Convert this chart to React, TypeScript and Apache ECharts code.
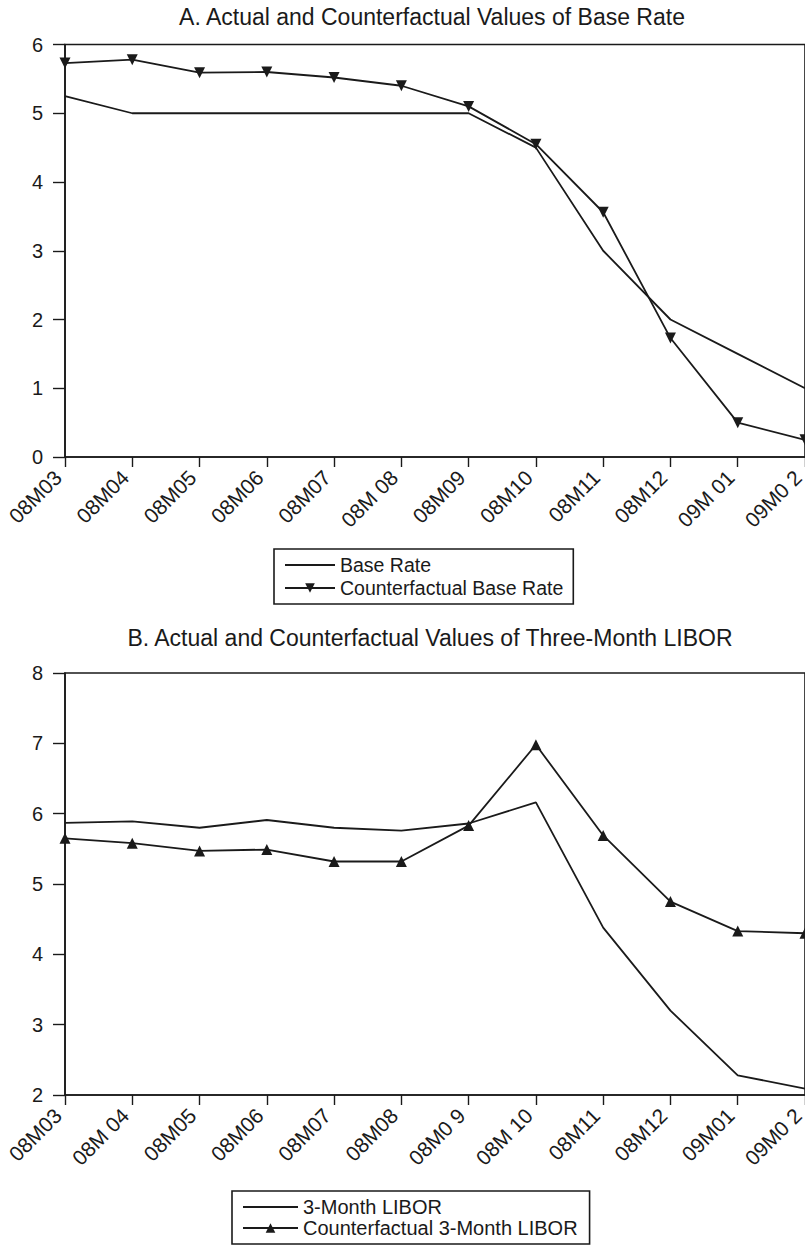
import React, { useEffect, useRef } from "react";
import * as echarts from "echarts";

const categoriesA = ["08M03", "08M04", "08M05", "08M06", "08M07", "08M 08", "08M09", "08M10", "08M11", "08M12", "09M 01", "09M0 2"];
const baseRate = [5.25, 5.0, 5.0, 5.0, 5.0, 5.0, 5.0, 4.5, 3.0, 2.0, 1.5, 1.0];
const cfBaseRate = [5.73, 5.78, 5.59, 5.6, 5.52, 5.4, 5.1, 4.55, 3.56, 1.73, 0.5, 0.25];

const categoriesB = ["08M03", "08M 04", "08M05", "08M06", "08M07", "08M08", "08M0 9", "08M 10", "08M11", "08M12", "09M01", "09M0 2"];
const libor = [5.87, 5.89, 5.8, 5.91, 5.8, 5.76, 5.86, 6.16, 4.38, 3.2, 2.28, 2.09];
const cfLibor = [5.65, 5.58, 5.47, 5.49, 5.32, 5.32, 5.83, 6.98, 5.69, 4.75, 4.33, 4.3];

const titleA = "A. Actual and Counterfactual Values of Base Rate";
const titleB = "B. Actual and Counterfactual Values of Three-Month LIBOR";

const FONT = "'Liberation Sans', Arial, sans-serif";
const INK = "#1a1a1a";
const LINE_ICON = "path://M0,0H50V1.8H0Z";

export default function App() {
  const ref = useRef<HTMLDivElement>(null);
  useEffect(() => {
    if (!ref.current) return;
    const chart = echarts.init(ref.current, null, { renderer: "svg" });
    const xAxisBase = (gridIndex: number, data: string[]) => ({
      type: "category",
      gridIndex,
      data,
      boundaryGap: false,
      axisLine: { lineStyle: { color: INK, width: 1.6 } },
      axisTick: { show: true, inside: false, length: 10, alignWithLabel: true, lineStyle: { color: INK, width: 1.4 } },
      axisLabel: { rotate: 45, fontSize: 21, color: INK, fontFamily: FONT, margin: 10, interval: 0, hideOverlap: false, padding: [0, 10, 0, 0] },
      splitLine: { show: false },
    });
    const yAxisBase = (gridIndex: number, min: number, max: number) => ({
      type: "value",
      gridIndex,
      min,
      max,
      interval: 1,
      axisLine: { show: true, lineStyle: { color: INK, width: 1.6 } },
      axisTick: { show: true, inside: false, length: 12, lineStyle: { color: INK, width: 1.4 } },
      axisLabel: { fontSize: 20, color: INK, fontFamily: FONT, margin: 22 },
      splitLine: { show: false },
    });
    const gridBase = { show: true, borderColor: INK, borderWidth: 1.6, backgroundColor: "transparent", containLabel: false, outerBoundsMode: "none" };
    const option: any = {
      animation: false,
      backgroundColor: "#ffffff",
      graphic: [
        { type: "text", x: 432, y: 17, style: { text: titleA, fill: INK, font: `23px ${FONT}`, textAlign: "center", textVerticalAlign: "middle" } },
        { type: "text", x: 430, y: 638, style: { text: titleB, fill: INK, font: `23px ${FONT}`, textAlign: "center", textVerticalAlign: "middle" } },
      ],
      grid: [
        { ...gridBase, left: 65, top: 44.5, width: 740, height: 412.5 },
        { ...gridBase, left: 65, top: 673, width: 740, height: 422 },
      ],
      xAxis: [xAxisBase(0, categoriesA), xAxisBase(1, categoriesB)],
      yAxis: [yAxisBase(0, 0, 6), yAxisBase(1, 2, 8)],
      legend: [
        {
          data: [{ name: "Base Rate", icon: LINE_ICON }, { name: "Counterfactual Base Rate" }],
          left: 274,
          top: 549,
          orient: "vertical",
          borderColor: INK,
          borderWidth: 1.6,
          padding: [6, 10, 6, 10],
          itemGap: 3,
          itemWidth: 50,
          itemHeight: 12,
          symbolKeepAspect: true,
          textStyle: { fontSize: 19.5, color: INK, fontFamily: FONT },
        },
        {
          data: [{ name: "3-Month LIBOR", icon: LINE_ICON }, { name: "Counterfactual 3-Month LIBOR" }],
          left: 232,
          top: 1191,
          orient: "vertical",
          borderColor: INK,
          borderWidth: 1.6,
          padding: [6, 12, 6, 10],
          itemGap: 1,
          itemWidth: 55,
          itemHeight: 12,
          symbolKeepAspect: true,
          textStyle: { fontSize: 20, color: INK, fontFamily: FONT },
        },
      ],
      series: [
        {
          name: "Base Rate",
          type: "line",
          xAxisIndex: 0,
          yAxisIndex: 0,
          data: baseRate,
          symbol: "none",
          lineStyle: { color: INK, width: 1.8 },
          itemStyle: { color: INK },
        },
        {
          name: "Counterfactual Base Rate",
          type: "line",
          xAxisIndex: 0,
          yAxisIndex: 0,
          data: cfBaseRate,
          symbol: "triangle",
          symbolSize: 11,
          symbolRotate: 180,
          showSymbol: true,
          lineStyle: { color: INK, width: 1.8 },
          itemStyle: { color: INK },
        },
        {
          name: "3-Month LIBOR",
          type: "line",
          xAxisIndex: 1,
          yAxisIndex: 1,
          data: libor,
          symbol: "none",
          lineStyle: { color: INK, width: 1.8 },
          itemStyle: { color: INK },
        },
        {
          name: "Counterfactual 3-Month LIBOR",
          type: "line",
          xAxisIndex: 1,
          yAxisIndex: 1,
          data: cfLibor,
          symbol: "triangle",
          symbolSize: 11,
          showSymbol: true,
          lineStyle: { color: INK, width: 1.8 },
          itemStyle: { color: INK },
        },
      ],
    };
    chart.setOption(option);
    return () => chart.dispose();
  }, []);
  return <div ref={ref} style={{ position: "absolute", left: 0, top: 0, width: 805, height: 1245, background: "#fff" }} />;
}
